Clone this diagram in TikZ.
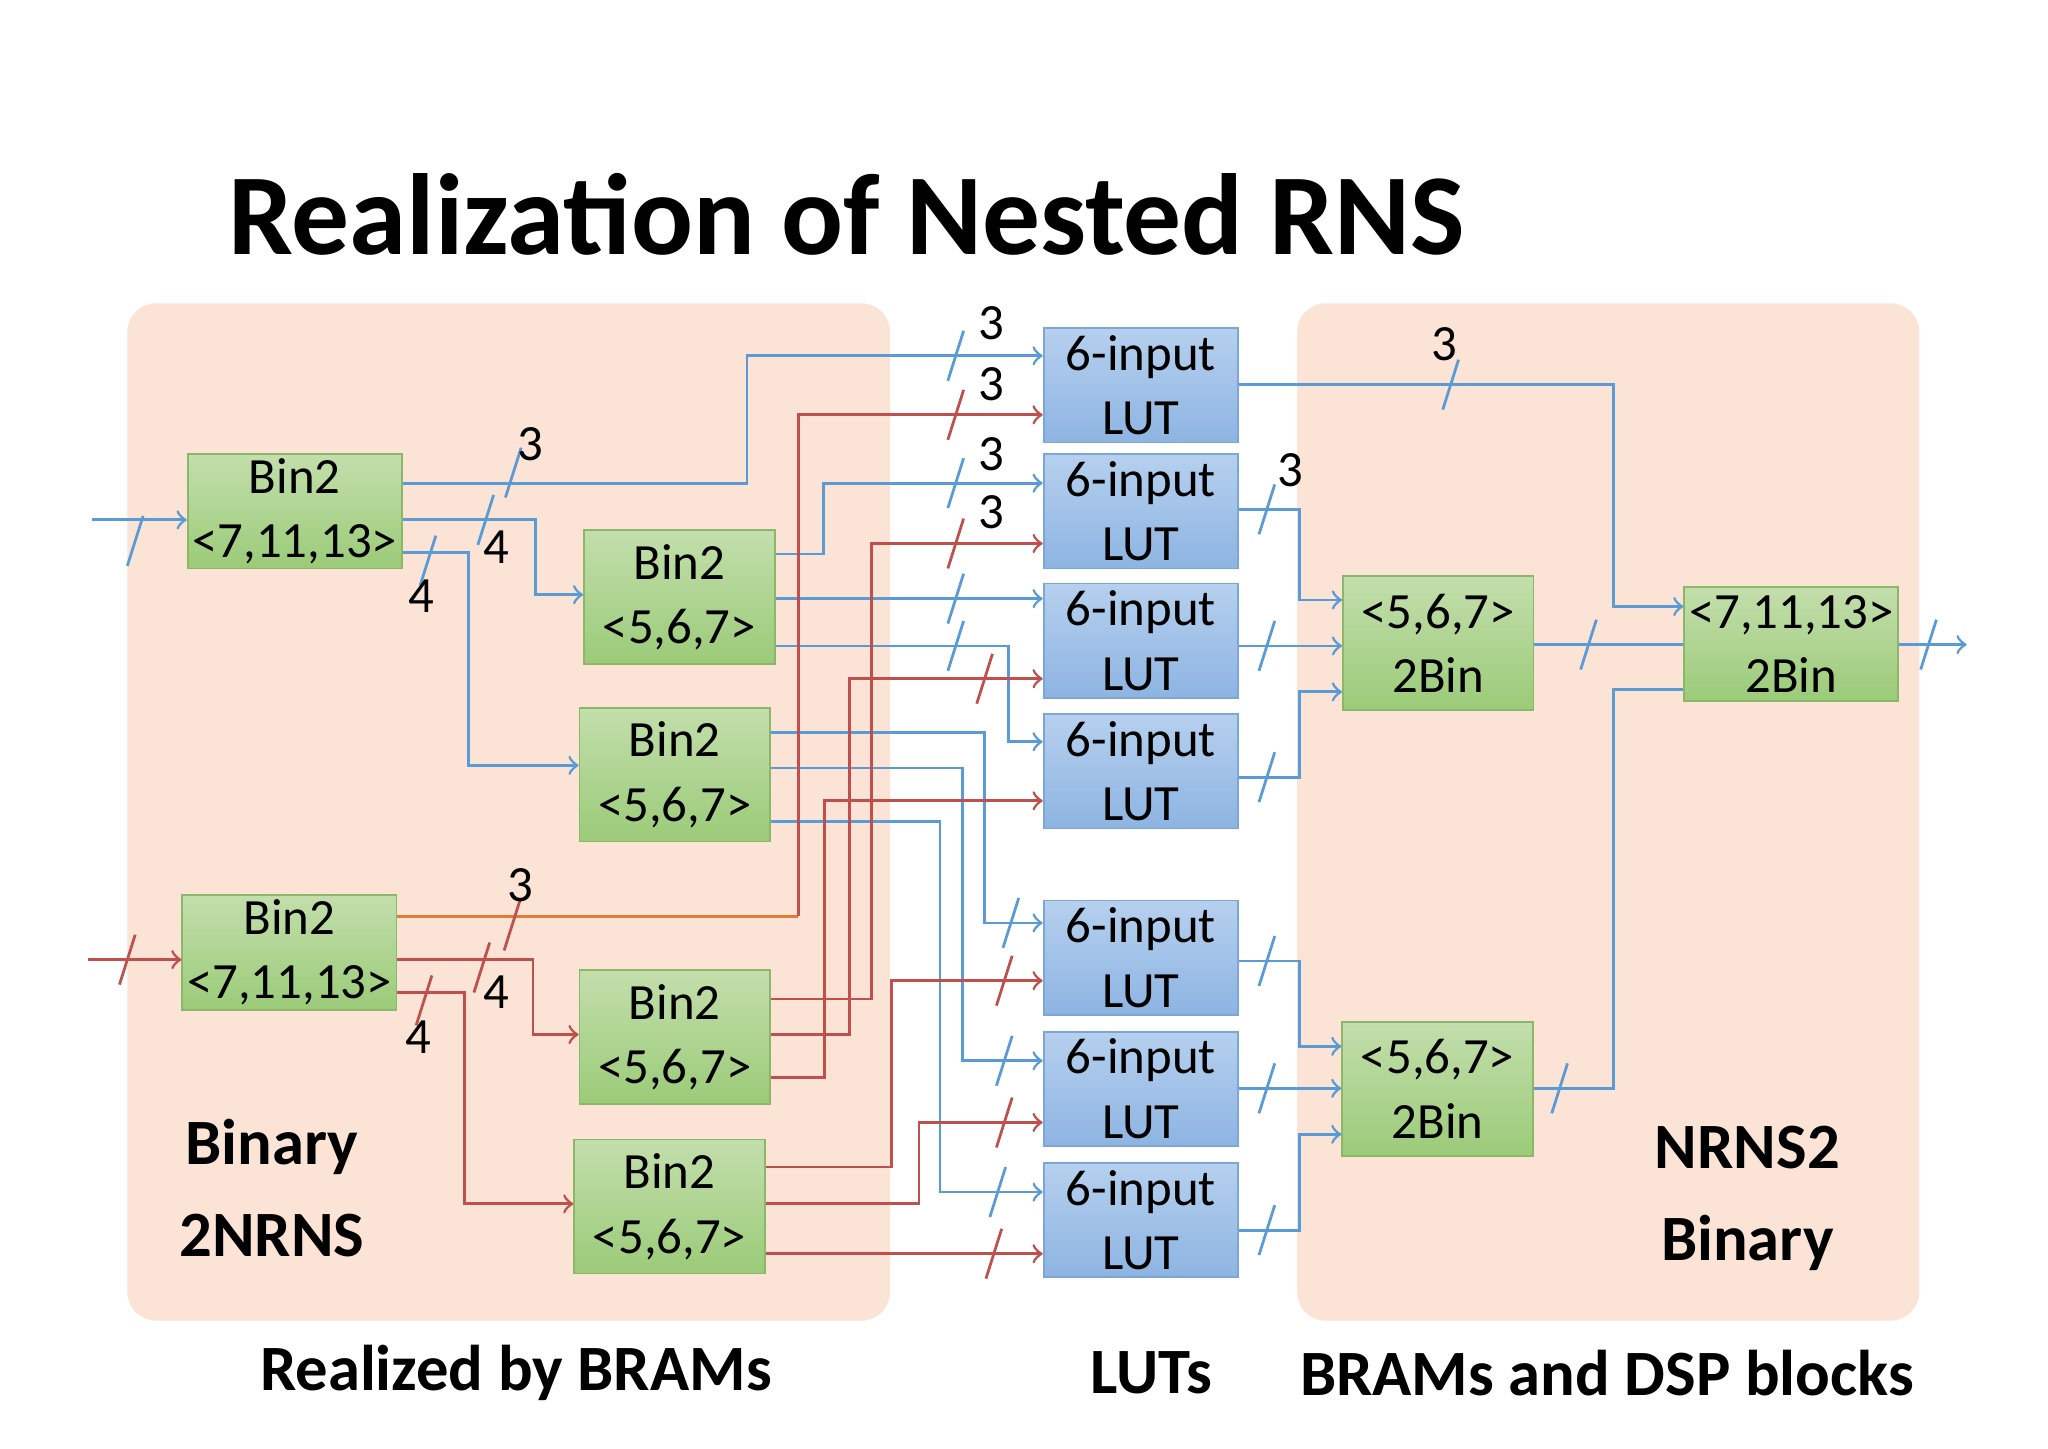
\documentclass[tikz,border=0pt]{standalone}
\usepackage{fontspec}
\setmainfont{Carlito}
\usetikzlibrary{calc}
\definecolor{peach}{HTML}{FBE3D6}
\definecolor{bl}{HTML}{5B9BD5}
\definecolor{rd}{HTML}{C0504D}
\definecolor{org}{HTML}{E07B39}
\definecolor{gtop}{HTML}{C3DEAC}
\definecolor{gbot}{HTML}{9BCB78}
\definecolor{gbd}{HTML}{8AB868}
\definecolor{btop}{HTML}{B6D0EE}
\definecolor{bbot}{HTML}{8DB4E2}
\definecolor{bbd}{HTML}{7DA6D6}
\newcommand{\slmark}[3][bl]{\draw[#1,semithick] ($(#2,#3)+(-6,19)$) -- ($(#2,#3)+(6,-19)$);}
\begin{document}
\begin{tikzpicture}[x=0.01cm,y=-0.01cm,
  gbox/.style={draw=gbd,top color=gtop,bottom color=gbot,minimum width=1.45cm,minimum height=1.02cm,
    align=center,font=\fontsize{11}{14}\selectfont,inner sep=0pt},
  wbox/.style={gbox,minimum width=1.63cm,minimum height=0.87cm},
  lut/.style={draw=bbd,top color=btop,bottom color=bbot,minimum width=1.48cm,minimum height=0.87cm,
    align=center,font=\fontsize{11}{14}\selectfont,inner sep=0pt},
  cb/.style={bl,semithick,->,>=to},
  cr/.style={rd,semithick,->,>=to},
  lb/.style={font=\fontsize{11}{12}\selectfont,inner sep=0pt},
  big/.style={font=\bfseries\fontsize{14}{20}\selectfont,align=center,inner sep=0pt}]
\useasboundingbox (0,0) rectangle (1560,1103);
\fill[white] (0,0) rectangle (1560,1103);
\fill[peach,rounded corners=0.22cm] (97,231) rectangle (678,1006);
\fill[peach,rounded corners=0.22cm] (988,231) rectangle (1462,1006);
\node[font=\bfseries\fontsize{25}{30}\selectfont,inner sep=0pt] (title) at (645,163) {Realization of Nested RNS};
\node[big] (t1) at (393,1046) {Realized by BRAMs};
\node[big] (t2) at (877,1046) {LUTs};
\node[big] (t3) at (1224,1046) {BRAMs and DSP blocks};
\node[big,font=\bfseries\fontsize{14}{20}\selectfont] (p1) at (207,905) {Binary\\2NRNS};
\node[big,font=\bfseries\fontsize{14}{20}\selectfont] (p2) at (1331,913) {NRNS2\\Binary};
% boxes
\node[wbox] (A1) at (224.5,389.5) {Bin2\\<7,11,13>};
\node[gbox] (B1) at (517.5,455) {Bin2\\<5,6,7>};
\node[gbox] (C1) at (514,590) {Bin2\\<5,6,7>};
\node[wbox] (A2) at (220.5,725.5) {Bin2\\<7,11,13>};
\node[gbox] (B2) at (514,790) {Bin2\\<5,6,7>};
\node[gbox] (C2) at (510,919) {Bin2\\<5,6,7>};
\foreach \n/\y in {1/293.5,2/389.5,3/488,4/587.5,5/729.5,6/829.5,7/929.5}
  \node[lut] (L\n) at (869,\y) {6-input\\LUT};
\node[gbox] (D1) at (1095.5,490) {<5,6,7>\\2Bin};
\node[gbox] (D2) at (1095,829.5) {<5,6,7>\\2Bin};
\node[wbox] (E) at (1364.5,490.5) {<7,11,13>\\2Bin};
\coordinate (in1) at (70,396);
\coordinate (in2) at (67,731);
\coordinate (out) at (1498,491);
% inputs/outputs
\draw[cb] (in1) -- (A1.west |- in1); \slmark{103}{412}
\draw[cr] (in2) -- (A2.west |- in2); \slmark[rd]{97}{731}
\draw[cb] (E.east |- out) -- (out); \slmark{1469}{491}
% A1
\draw[cb] (A1.east |- 0,368) -- (569,368) |- (L1.west |- 0,271);
\draw[cb] (A1.east |- 0,396) -| (408,453) -- (B1.west |- 0,453);
\draw[cb] (A1.east |- 0,421) -| (357,583) -- (C1.west |- 0,583);
\slmark{391}{360}\slmark{370}{396}\slmark{326}{427}
\node[lb] (n1) at (404,338) {3};\node[lb] (n2) at (378,417) {4};\node[lb] (n3) at (321,454) {4};
% B1, C1
\draw[cb] (B1.east |- 0,422) -| (627,368) -- (L2.west |- 0,368);
\draw[cb] (B1.east |- 0,456) -- (L3.west |- 0,456);
\draw[cb] (B1.east |- 0,492) -| (768,565) -- (L4.west |- 0,565);
\draw[cb] (C1.east |- 0,558) -| (750,703) -- (L5.west |- 0,703);
\draw[cb] (C1.east |- 0,585) -| (733,808) -- (L6.west |- 0,808);
\draw[cb] (C1.east |- 0,626) -| (716,908) -- (L7.west |- 0,908);
% A2
\draw[org,semithick] (A2.east |- 0,698) -- (608,698);
\draw[cr] (608,698) |- (L1.west |- 0,316);
\draw[cr] (A2.east |- 0,731) -| (406,788) -- (B2.west |- 0,788);
\draw[cr] (A2.east |- 0,756) -| (354,917) -- (C2.west |- 0,917);
\slmark[rd]{390}{705}\slmark[rd]{367}{737}\slmark[rd]{323}{762}
\node[lb] (n4) at (396,674) {3};\node[lb] (n5) at (378,756) {4};\node[lb] (n6) at (319,790) {4};
% B2, C2
\draw[cr] (B2.east |- 0,761) -| (664,414) -- (L2.west |- 0,414);
\draw[cr] (B2.east |- 0,788) -| (647,517) -- (L3.west |- 0,517);
\draw[cr] (B2.east |- 0,821) -| (628,610) -- (L4.west |- 0,610);
\draw[cr] (C2.east |- 0,889) -| (679,747) -- (L5.west |- 0,747);
\draw[cr] (C2.east |- 0,917) -| (700,855) -- (L6.west |- 0,855);
\draw[cr] (C2.east |- 0,955) -- (L7.west |- 0,955);
% slashes before LUTs
\slmark{728}{271}\slmark[rd]{728}{316}\slmark{728}{368}\slmark[rd]{728}{414}
\slmark{728}{456}\slmark{728}{492}\slmark[rd]{750}{517}
\slmark{770}{703}\slmark[rd]{765}{747}\slmark{765}{808}\slmark[rd]{765}{855}
\slmark{760}{908}\slmark[rd]{757}{955}
\node[lb] (n7) at (755,246) {3};\node[lb] (n8) at (755,293) {3};
\node[lb] (n9) at (755,346) {3};\node[lb] (n10) at (755,390) {3};
% LUT outputs
\draw[cb] (L1.east |- 0,293) -| (1229,462) -- (E.west |- 0,462);
\draw[cb] (L2.east |- 0,388) -| (990,457) -- (D1.west |- 0,457);
\draw[cb] (L3.east |- 0,492) -- (D1.west |- 0,492);
\draw[cb] (L4.east |- 0,592) -| (990,527) -- (D1.west |- 0,527);
\draw[cb] (L5.east |- 0,732) -| (990,797) -- (D2.west |- 0,797);
\draw[cb] (L6.east |- 0,829) -- (D2.west |- 0,829);
\draw[cb] (L7.east |- 0,937) -| (990,864) -- (D2.west |- 0,864);
\draw[bl,semithick] (D1.east |- 0,491) -- (E.west |- 0,491);
\draw[bl,semithick] (D2.east |- 0,829) -| (1229,525) -- (E.west |- 0,525);
\slmark{1105}{293}\slmark{965}{388}\slmark{965}{492}\slmark{965}{592}
\slmark{965}{732}\slmark{965}{829}\slmark{965}{937}\slmark{1210}{491}\slmark{1188}{829}
\node[lb] (n11) at (1100,262) {3};\node[lb] (n12) at (983,358) {3};
\end{tikzpicture}
\end{document}
